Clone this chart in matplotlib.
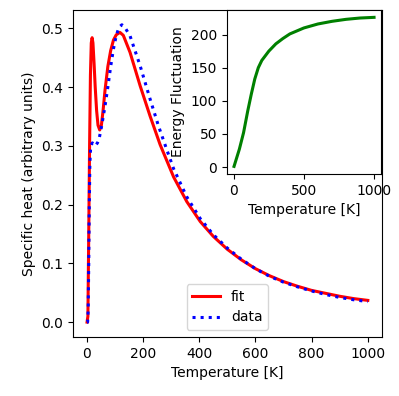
import matplotlib
matplotlib.use("Agg")
import matplotlib.pyplot as plt
import numpy as np

# Specific heat: fit (red solid)
fit_T = [1, 4, 7, 10, 13, 16, 19, 22, 26, 30, 35, 40, 46, 52, 58, 65, 75, 85, 95, 105,
         118, 130, 154, 190, 225, 261, 309, 356, 404, 450, 500, 550, 600, 650, 700, 750,
         800, 850, 900, 950, 1000]
fit_C = [0.0, 0.01, 0.15, 0.30, 0.42, 0.475, 0.484, 0.475, 0.44, 0.40, 0.36, 0.335, 0.327,
         0.335, 0.36, 0.395, 0.435, 0.462, 0.48, 0.489, 0.493, 0.488, 0.459, 0.402, 0.351,
         0.302, 0.247, 0.205, 0.171, 0.146, 0.124, 0.106, 0.091, 0.079, 0.069, 0.061,
         0.054, 0.049, 0.044, 0.040, 0.037]

# Specific heat: data (blue dotted)
data_T = [1, 3, 5, 7, 9, 11, 14, 20, 30, 38, 44, 53, 65, 75, 85, 95, 105, 115, 125, 135,
          154, 190, 225, 255, 285, 309, 356, 404, 450, 500, 550, 600, 650, 700, 750, 800,
          850, 900, 950, 1000]
data_C = [0.0, 0.0, 0.02, 0.10, 0.20, 0.27, 0.30, 0.305, 0.30, 0.305, 0.312, 0.334, 0.368,
          0.40, 0.435, 0.465, 0.488, 0.502, 0.506, 0.502, 0.487, 0.436, 0.380, 0.334, 0.293,
          0.261, 0.213, 0.176, 0.149, 0.126, 0.107, 0.091, 0.078, 0.068, 0.060, 0.053,
          0.047, 0.042, 0.038, 0.035]

# Energy fluctuation (inset, green)
ef_T = [2, 40, 70, 100, 125, 150, 175, 200, 250, 300, 350, 400, 500, 600, 700, 800, 900, 1000]
ef_E = [1, 27, 52, 85, 110, 133, 150, 161, 175, 186, 194, 201, 210, 216, 220, 223, 225, 226]

fig = plt.figure(figsize=(3.99, 3.96), dpi=100)
ax = fig.add_axes([0.183, 0.149, 0.774, 0.826])
ax.plot(fit_T, fit_C, color='red', linestyle='-', linewidth=2.2, label='fit')
ax.plot(data_T, data_C, color='blue', linestyle=':', linewidth=2.2, label='data')
ax.set_xlabel('Temperature [K]')
ax.set_ylabel('Specific heat (arbitrary units)')
ax.set_xticks([0, 200, 400, 600, 800, 1000])
ax.set_yticks([0.0, 0.1, 0.2, 0.3, 0.4, 0.5])
ax.legend(loc='lower center')

ins = fig.add_axes([0.569, 0.561, 0.386, 0.414])
ins.plot(ef_T, ef_E, color='green', linewidth=2.2)
ins.set_xlabel('Temperature [K]')
ins.set_ylabel('Energy Fluctuation')
ins.set_xticks([0, 500, 1000])
ins.set_yticks([0, 50, 100, 150, 200])

fig.savefig('out.png', dpi=100)
